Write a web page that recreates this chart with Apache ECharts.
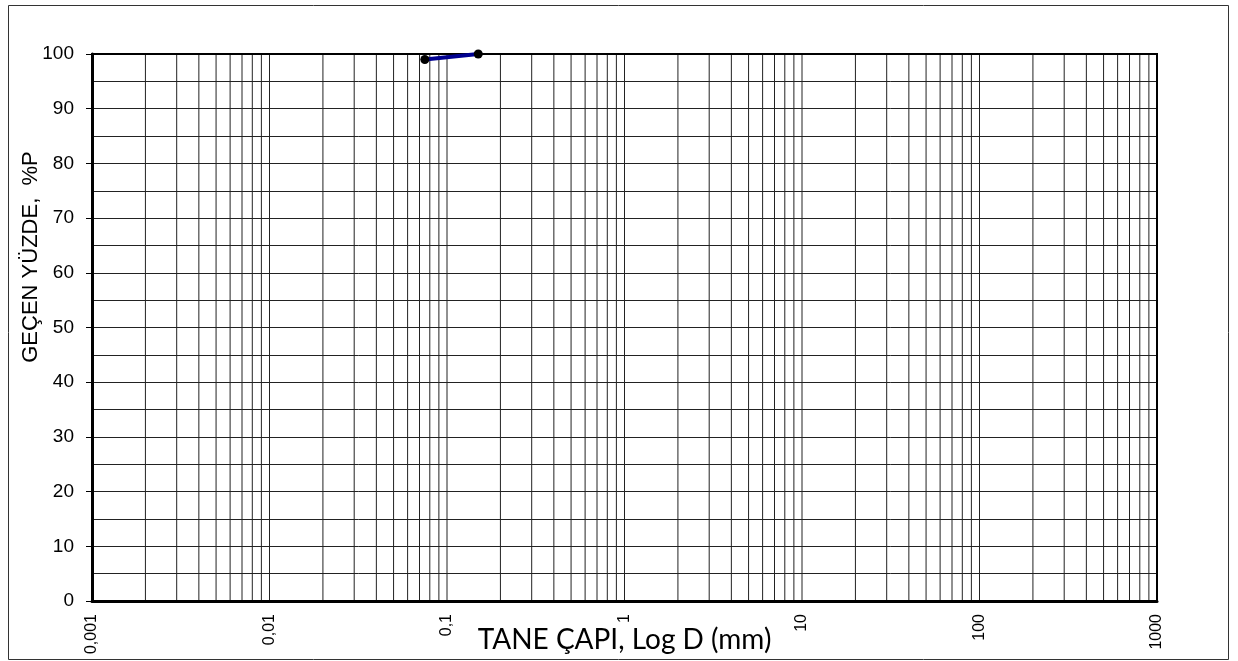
<!DOCTYPE html>
<html>
<head>
<meta charset="utf-8">
<script src="https://cdn.jsdelivr.net/npm/echarts@6/dist/echarts.min.js"></script>
<style>html,body{margin:0;padding:0;background:#fff}#c{width:1238px;height:661px}</style>
</head>
<body>
<div id="c"></div>
<script>
// Data
const grainSize = [0.075, 0.15];        // mm
const passing   = [99, 100];            // %
// Axis tick labels
const xTickLabels = ['0,001', '0,01', '0,1', '1', '10', '100', '1000'];
const yTicks = [0, 10, 20, 30, 40, 50, 60, 70, 80, 90, 100];
// Log grid: mantissas and decades for the vertical grid lines
const gridMantissas = [1, 2, 3, 4, 5, 6, 7, 8, 9];
const gridDecades = [0.001, 0.01, 0.1, 1, 10, 100];

const xTitle = 'TANE ÇAPI, Log D (mm)';
const yTitle = 'GEÇEN YÜZDE,  %P';

const vValues = [];
gridDecades.forEach(d => gridMantissas.forEach(m => {
  const v = +(m * d).toPrecision(6);
  if (v > 0.001 && v < 1000) vValues.push(v);
}));
const gridSeries = vValues.map(v => ({
  type: 'line', silent: true, z: 1, symbol: 'none',
  data: [[v, yTicks[0]], [v, yTicks[yTicks.length - 1]]],
  lineStyle: { color: '#222', width: 1 }
}));

const chart = echarts.init(document.getElementById('c'), null, { renderer: 'canvas' });
chart.setOption({
  animation: false,
  backgroundColor: '#fff',
  grid: { left: 92, top: 54, right: 81, bottom: 60, outerBoundsMode: 'none', containLabel: false,
    show: true, borderColor: '#000', borderWidth: 2, backgroundColor: 'transparent', z: 3 },
  xAxis: {
    type: 'log', logBase: 10, min: 0.001, max: 1000,
    name: xTitle, nameLocation: 'middle', nameGap: 25, nameMoveOverlap: false,
    nameTextStyle: { fontFamily: 'Lato', fontSize: 28, color: '#000' },
    axisLine: { show: true, lineStyle: { color: '#000', width: 3 } },
    axisTick: { show: false },
    splitLine: { show: false },
    axisLabel: {
      rotate: 90, margin: 13, fontFamily: 'Liberation Sans, Arial', fontSize: 16, color: '#000',
      formatter: v => xTickLabels[Math.round(Math.log10(v)) + 3]
    }
  },
  yAxis: {
    type: 'value', min: yTicks[0], max: yTicks[yTicks.length - 1], interval: 10,
    axisLine: { show: true, lineStyle: { color: '#000', width: 3 } },
    axisTick: { show: true, length: 6, lineStyle: { color: '#000', width: 1 } },
    axisLabel: { margin: 18, fontFamily: 'Liberation Sans, Arial', fontSize: 19, color: '#000' },
    splitLine: { show: true, lineStyle: { color: '#222', width: 1 } },
    minorTick: { show: false, splitNumber: 2 },
    minorSplitLine: { show: true, lineStyle: { color: '#222', width: 1 } }
  },
  graphic: [
    { type: 'rect', left: 6, top: 3, shape: { width: 1220, height: 654 }, style: { fill: 'none', stroke: '#333', lineWidth: 1 }, z: 100, silent: true },
    { type: 'text', x: 31, y: 257, rotation: Math.PI / 2,
      style: { text: yTitle, font: '22px "Liberation Sans", Arial', fill: '#000', align: 'center', verticalAlign: 'middle' } }
  ],
  series: gridSeries.concat([
    {
      type: 'line', z: 5,
      data: grainSize.map((g, i) => [g, passing[i]]),
      lineStyle: { color: '#000090', width: 4 },
      symbol: 'circle', symbolSize: 9,
      itemStyle: { color: '#000', borderWidth: 0 }
    }
  ])
});
</script>
</body>
</html>
